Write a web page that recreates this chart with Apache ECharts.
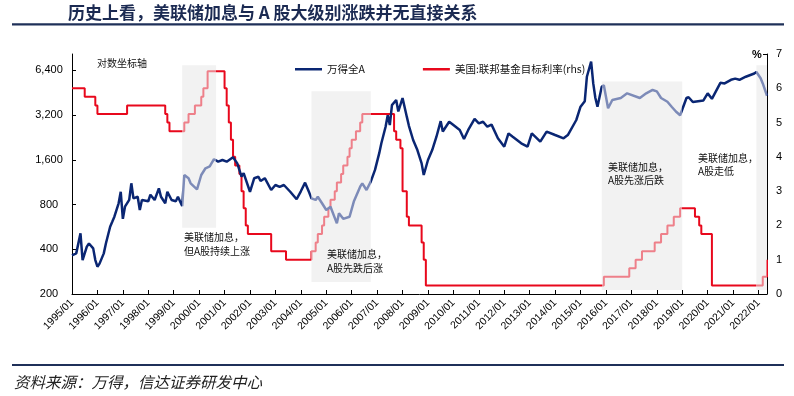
<!DOCTYPE html>
<html><head><meta charset="utf-8">
<script src="https://cdn.jsdelivr.net/npm/echarts@6/dist/echarts.min.js"></script>
<style>html,body{margin:0;padding:0;background:#fff}#c{width:794px;height:396px}</style>
</head><body><div id="c"></div>
<script>
// monthly categories 1995/01 .. 2022/05
const months = [];
for (let y = 1995; y <= 2022; y++) {
  for (let m = 1; m <= 12; m++) {
    if (y === 2022 && m > 5) break;
    months.push(y + '/' + String(m).padStart(2, '0'));
  }
}
// 万得全A
const windA = [
['1995/01',364],['1995/03',375],['1995/05',511],['1995/06',338],['1995/08',416],['1995/09',437],['1995/11',405],['1995/12',338],
['1996/01',305],['1996/02',320],['1996/04',375],['1996/05',437],['1996/07',566],['1996/08',611],['1996/09',661],['1996/11',814],['1996/12',973],
['1997/01',640],['1997/02',772],['1997/04',857],['1997/05',1109],['1997/06',879],['1997/08',900],['1997/09',734],['1997/10',857],
['1998/01',840],['1998/02',930],['1998/04',857],['1998/06',1026],['1998/07',900],['1998/09',814],['1998/10',973],['1998/12',857],
['1999/02',840],['1999/03',900],['1999/05',780],['1999/06',1261],['1999/08',1200],['1999/09',1109],['1999/12',1010],
['2000/02',1261],['2000/04',1399],['2000/06',1440],['2000/08',1610],['2000/10',1550],['2000/12',1590],
['2001/02',1550],['2001/05',1660],['2001/07',1510],['2001/09',1228],['2001/10',1300],
['2002/01',973],['2002/03',1200],['2002/05',1228],['2002/06',1150],['2002/08',1200],['2002/11',1000],
['2003/01',1080],['2003/03',1050],['2003/05',1080],['2003/08',973],['2003/11',866],
['2004/01',980],['2004/03',1120],['2004/05',957],['2004/06',879],['2004/08',857],['2004/09',900],['2004/11',814],
['2005/01',734],['2005/03',772],['2005/06',597],['2005/07',698],['2005/09',640],['2005/12',661],
['2006/02',836],['2006/05',1052],['2006/06',1109],['2006/08',1000],['2006/10',1137],['2006/12',1364],
['2007/02',1768],['2007/03',2059],['2007/05',2661],['2007/06',3180],['2007/07',2733],['2007/08',3720],['2007/10',4022],['2007/11',3370],
['2008/01',4150],['2008/03',3110],['2008/04',2700],['2008/06',2167],['2008/08',1856],['2008/10',1510],['2008/11',1261],
['2009/01',1590],['2009/03',1856],['2009/05',2280],['2009/07',2900],['2009/08',2470],['2009/11',2876],
['2010/01',2733],['2010/04',2530],['2010/06',2200],['2010/08',2530],['2010/11',3000],
['2011/01',2805],['2011/03',2876],['2011/05',2661],['2011/07',2750],['2011/10',2224],
['2012/01',1954],['2012/03',2400],['2012/05',2280],['2012/09',2059],['2012/12',1954],
['2013/02',2400],['2013/06',2111],['2013/09',2470],
['2014/01',2341],['2014/05',2224],['2014/07',2341],['2014/11',2953],
['2015/01',3626],['2015/03',3950],['2015/04',5770],['2015/06',7300],['2015/07',5200],['2015/08',4150],['2015/09',3626],['2015/11',4944],['2015/12',5060],
['2016/02',3540],['2016/04',4022],['2016/08',4150],['2016/11',4460],
['2017/05',4150],['2017/08',4460],['2017/11',4700],
['2018/01',4600],['2018/03',4150],['2018/06',3917],['2018/08',3626],['2018/10',3370],['2018/12',3180],
['2019/03',4150],['2019/04',4200],['2019/06',3900],['2019/11',4000],
['2020/01',4460],['2020/03',4100],['2020/07',5250],['2020/09',5200],['2020/12',5500],
['2021/02',5600],['2021/04',5500],['2021/07',5770],['2021/11',6060],['2021/12',6200],
['2022/02',5630],['2022/03',5200],['2022/05',4300]
];
// 美国:联邦基金目标利率 (rate at each change month, %)
const fedRate = [
['1995/01',6.0],['1995/07',5.75],['1995/12',5.5],['1996/01',5.25],['1997/03',5.5],['1998/09',5.25],['1998/10',5.0],['1998/11',4.75],
['1999/06',5.0],['1999/08',5.25],['1999/11',5.5],['2000/02',5.75],['2000/03',6.0],['2000/05',6.5],
['2001/01',6.0],['2001/02',5.5],['2001/03',5.0],['2001/04',4.5],['2001/05',4.0],['2001/06',3.75],['2001/08',3.5],['2001/09',3.0],['2001/10',2.5],['2001/11',2.0],['2001/12',1.75],
['2002/11',1.25],['2003/06',1.0],
['2004/06',1.25],['2004/08',1.5],['2004/09',1.75],['2004/11',2.0],['2004/12',2.25],['2005/02',2.5],['2005/03',2.75],['2005/05',3.0],['2005/06',3.25],['2005/08',3.5],['2005/09',3.75],['2005/11',4.0],['2005/12',4.25],['2006/01',4.5],['2006/03',4.75],['2006/05',5.0],['2006/06',5.25],
['2007/09',4.75],['2007/10',4.5],['2007/12',4.25],['2008/01',3.0],['2008/03',2.25],['2008/04',2.0],['2008/10',1.5],['2008/11',1.0],['2008/12',0.25],
['2015/12',0.5],['2016/12',0.75],['2017/03',1.0],['2017/06',1.25],['2017/12',1.5],['2018/03',1.75],['2018/06',2.0],['2018/09',2.25],['2018/12',2.5],
['2019/07',2.25],['2019/09',2.0],['2019/10',1.75],['2020/03',0.25],['2022/03',0.5],['2022/05',1.0]
];
// Fed hiking periods (shaded)
const hikePeriods = [['1999/05','2000/09'],['2004/06','2006/10'],['2015/11','2019/01'],['2021/12','2022/05']];
const leftTickLabels = ['200','400','800','1,600','3,200','6,400'];
const rightTickLabels = ['0','1','2','3','4','5','6','7'];

const BLUE = '#0a2673', BLUE_L = '#7d8bb8', RED = '#e8081c', RED_L = '#ee808a';
const FONT = "'Liberation Sans', 'Noto Sans CJK SC', sans-serif";
const CJK = "'Noto Sans CJK SC', sans-serif";

function pieces(dark, light) {
  const p = []; let prev = -1;
  hikePeriods.forEach(([a, b]) => {
    const ia = months.indexOf(a), ib = months.indexOf(b);
    p.push({gt: prev, lt: ia, color: dark});
    p.push({gte: ia, lte: ib, color: light});
    prev = ib;
  });
  p.push({gt: prev, lte: 100000, color: dark});
  return p;
}
const boxY = [[6.67, 1.93], [5.91, 0.35], [6.2, 0.12], [6.67, 0.12]];

const chart = echarts.init(document.getElementById('c'), null, {renderer: 'canvas'});
chart.setOption({
  animation: false,
  textStyle: {fontFamily: FONT},
  grid: {left: 72, right: 27, top: 54, bottom: 102, containLabel: false},
  legend: {
    left: 290, top: 59, itemWidth: 27, itemHeight: 2.5, itemGap: 58, icon: 'rect',
    textStyle: {fontSize: 10.5, color: '#111', fontFamily: CJK},
    data: [{name: '万得全A', itemStyle: {color: BLUE}}, {name: '美国:联邦基金目标利率(rhs)', itemStyle: {color: RED}}]
  },
  xAxis: {
    type: 'category', data: months, boundaryGap: false,
    axisLine: {lineStyle: {color: '#000', width: 1}},
    axisTick: {inside: true, length: 4, lineStyle: {color: '#000'}, interval: (i, v) => v.endsWith('/01')},
    axisLabel: {interval: (i, v) => v.endsWith('/01'), rotate: 45, margin: 7, fontSize: 10.5, color: '#000'},
    splitLine: {show: false}
  },
  yAxis: [{
    type: 'log', logBase: 2, min: 200, max: 8200, interval: 1, position: 'left',
    axisLine: {show: true, lineStyle: {color: '#000'}},
    axisTick: {show: true, inside: true, length: 4, lineStyle: {color: '#000'}},
    axisLabel: {align: 'center', margin: 23, fontSize: 11, color: '#000', showMaxLabel: false,
      formatter: v => leftTickLabels[Math.round(Math.log2(v / 200))] || ''},
    splitLine: {show: false}
  }, {
    type: 'value', min: 0, max: 7, interval: 1, position: 'right',
    axisLine: {show: true, lineStyle: {color: '#000'}},
    axisTick: {show: true, inside: true, length: 4, lineStyle: {color: '#000'}},
    axisLabel: {margin: 9, fontSize: 11, color: '#000', formatter: v => rightTickLabels[Math.round(v)]},
    splitLine: {show: false}
  }],
  visualMap: [
    {type: 'piecewise', show: false, seriesIndex: 0, dimension: 0, pieces: pieces(RED, RED_L)},
    {type: 'piecewise', show: false, seriesIndex: 1, dimension: 0, pieces: pieces(BLUE, BLUE_L)}
  ],
  series: [{
    name: '美国:联邦基金目标利率(rhs)', type: 'line', yAxisIndex: 1, step: 'end', data: fedRate,
    showSymbol: false, z: 2, lineStyle: {width: 2}, itemStyle: {color: RED},
    markArea: {silent: true, itemStyle: {color: '#f2f2f2'},
      data: hikePeriods.map((p, i) => [{xAxis: p[0], yAxis: boxY[i][0]}, {xAxis: p[1], yAxis: boxY[i][1]}])}
  }, {
    name: '万得全A', type: 'line', yAxisIndex: 0, data: windA,
    showSymbol: false, z: 3, lineStyle: {width: 2.5}, itemStyle: {color: BLUE}
  }],
  graphic: [
    {type: 'text', left: 68, top: 4, style: {text: '历史上看，美联储加息与 A 股大级别涨跌并无直接关系', fontSize: 17, fontWeight: 'bold', fill: '#1b2a52', fontFamily: CJK}},
    {type: 'line', shape: {x1: 12, y1: 24.3, x2: 784, y2: 24.3}, style: {stroke: '#1f3059', lineWidth: 2.2}},
    {type: 'line', shape: {x1: 12, y1: 365, x2: 784, y2: 365}, style: {stroke: '#1f3059', lineWidth: 2.2}},
    {type: 'text', left: 14, top: 374, style: {text: '资料来源：万得，信达证券研发中心', fontSize: 15.5, fontStyle: 'italic', fill: '#222', fontFamily: CJK}},
    {type: 'text', x: 757, y: 55, style: {text: '%', fontSize: 11, fontWeight: 'bold', fill: '#000', align: 'center', verticalAlign: 'middle', fontFamily: FONT}},
    {type: 'text', x: 97, y: 63, style: {text: '对数坐标轴', fontSize: 10, fill: '#111', verticalAlign: 'middle', fontFamily: CJK}},
    {type: 'text', x: 184, y: 230.5, z: 10, style: {text: '美联储加息，\n但A股持续上涨', fontSize: 10, lineHeight: 13.5, fill: '#111', verticalAlign: 'top', fontFamily: CJK}},
    {type: 'text', x: 327, y: 247.5, z: 10, style: {text: '美联储加息，\nA股先跌后涨', fontSize: 10, lineHeight: 13.5, fill: '#111', verticalAlign: 'top', fontFamily: CJK}},
    {type: 'text', x: 608, y: 160, z: 10, style: {text: '美联储加息，\nA股先涨后跌', fontSize: 10, lineHeight: 13.5, fill: '#111', verticalAlign: 'top', fontFamily: CJK}},
    {type: 'text', x: 698, y: 151, z: 10, style: {text: '美联储加息，\nA股走低', fontSize: 10, lineHeight: 13.5, fill: '#111', verticalAlign: 'top', fontFamily: CJK}}
  ]
});
</script></body></html>
